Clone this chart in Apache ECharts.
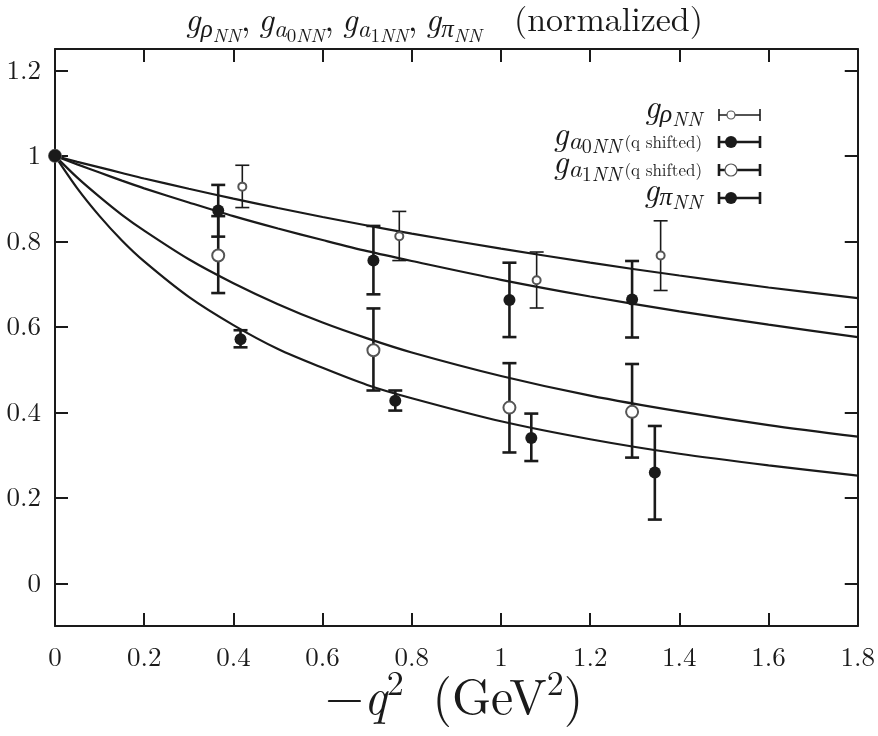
<!DOCTYPE html>
<html><head><meta charset="utf-8">
<script src="https://cdn.jsdelivr.net/npm/echarts@6/dist/echarts.min.js"></script>
<style>html,body{margin:0;padding:0;background:#fff}#c{width:878px;height:736px}</style>
</head><body><div id="c"></div>
<script>
// ---- data ----
const xTickValues = [0, 0.2, 0.4, 0.6, 0.8, 1, 1.2, 1.4, 1.6, 1.8];
const yTickValues = [0, 0.2, 0.4, 0.6, 0.8, 1, 1.2];

const rhoX  = [0, 0.420, 0.772, 1.080, 1.358];
const rhoY  = [1, 0.928, 0.812, 0.709, 0.767];
const rhoLo = [1, 0.879, 0.755, 0.644, 0.685];
const rhoHi = [1, 0.978, 0.870, 0.775, 0.848];

const a0X  = [0, 0.366, 0.714, 1.019, 1.294];
const a0Y  = [1, 0.872, 0.755, 0.663, 0.664];
const a0Lo = [1, 0.811, 0.676, 0.576, 0.575];
const a0Hi = [1, 0.932, 0.836, 0.750, 0.754];

const a1X  = [0, 0.366, 0.714, 1.019, 1.294];
const a1Y  = [1, 0.767, 0.545, 0.411, 0.401];
const a1Lo = [1, 0.679, 0.451, 0.306, 0.294];
const a1Hi = [1, 0.859, 0.643, 0.515, 0.513];

const piX  = [0, 0.416, 0.763, 1.068, 1.345];
const piY  = [1, 0.571, 0.427, 0.340, 0.259];
const piLo = [1, 0.552, 0.404, 0.286, 0.149];
const piHi = [1, 0.592, 0.451, 0.397, 0.368];

// fit curves
const fitX    = [0, 0.05, 0.1, 0.15, 0.2, 0.3, 0.4, 0.5, 0.6, 0.7, 0.8, 1.0, 1.2, 1.4, 1.6, 1.8];
const fitRho  = [1, 0.986, 0.973, 0.960, 0.947, 0.923, 0.900, 0.878, 0.857, 0.837, 0.818, 0.783, 0.750, 0.720, 0.692, 0.667];
const fitA0   = [1, 0.980, 0.961, 0.942, 0.924, 0.891, 0.859, 0.830, 0.803, 0.777, 0.754, 0.710, 0.671, 0.636, 0.605, 0.576];
const fitA1   = [1, 0.949, 0.904, 0.862, 0.825, 0.758, 0.702, 0.653, 0.610, 0.573, 0.540, 0.485, 0.439, 0.402, 0.370, 0.343];
const fitPi   = [1, 0.924, 0.859, 0.802, 0.753, 0.670, 0.604, 0.548, 0.504, 0.464, 0.433, 0.379, 0.337, 0.303, 0.276, 0.252];

// ---- helpers ----
const INK = '#1a1a1a';
const FONT = '"Latin Modern Roman","Liberation Serif","DejaVu Serif",serif';
const zip2 = (a, b) => a.map((v, i) => [v, b[i]]);
const zip3 = (a, b, c) => a.map((v, i) => [v, b[i], c[i]]);

function errSeries(xs, lo, hi, lw) {
  return {
    type: 'custom', z: 3,
    data: zip3(xs, lo, hi),
    renderItem: function (params, api) {
      const x = api.value(0), l = api.value(1), h = api.value(2);
      if (l === h) return null;
      const p1 = api.coord([x, l]), p2 = api.coord([x, h]);
      const c = 7;
      const st = { stroke: INK, lineWidth: lw };
      return { type: 'group', children: [
        { type: 'line', shape: { x1: p1[0], y1: p1[1], x2: p2[0], y2: p2[1] }, style: st },
        { type: 'line', shape: { x1: p1[0] - c, y1: p1[1], x2: p1[0] + c, y2: p1[1] }, style: st },
        { type: 'line', shape: { x1: p2[0] - c, y1: p2[1], x2: p2[0] + c, y2: p2[1] }, style: st }
      ]};
    }
  };
}
function fitSeries(ys) {
  return { type: 'line', data: zip2(fitX, ys), smooth: 0.3, showSymbol: false, symbol: 'none', z: 2,
    lineStyle: { color: INK, width: 2.2 }, silent: true };
}
function ptSeries(xs, ys, filled, size) {
  return { type: 'scatter', data: zip2(xs, ys), symbol: filled ? 'circle' : 'emptyCircle', symbolSize: size, z: filled ? 6 : 5,
    itemStyle: filled ? { color: INK, opacity: 1 } : { color: '#555', borderColor: '#555', borderWidth: 1.2, opacity: 1 } };
}

// math-like text from measured fragments: [text, size, italic, dy(baseline shift), dxBefore]
const mctx = document.createElement('canvas').getContext('2d');
function mathText(frags, x, baseline, align) {
  const w = frags.map(f => { mctx.font = (f[2] ? 'italic ' : '') + f[1] + 'px ' + FONT; return mctx.measureText(f[0]).width + (f[4] || 0); });
  const total = w.reduce((a, b) => a + b, 0);
  let cx = align === 'right' ? x - total : align === 'center' ? x - total / 2 : x;
  const out = [];
  frags.forEach((f, i) => {
    out.push({ type: 'text', x: cx + (f[4] || 0), y: baseline + f[3] + 0.16 * f[1], silent: true,
      style: { text: f[0], fontFamily: FONT, fontSize: f[1], fontStyle: f[2] ? 'italic' : 'normal', fill: INK,
        align: 'left', verticalAlign: 'bottom' } });
    cx += w[i];
  });
  return out;
}

const T = 34, TS = 25, TSS = 19;
const titleFrags = [
  ['g', T, 1, 0], ['ρ', TS, 1, 6], ['NN', TSS, 1, 11], [',', T, 0, 0],
  ['g', T, 1, 0, 8], ['a', TS, 1, 6], ['0', TSS, 0, 11], ['NN', TSS, 1, 11], [',', T, 0, 0],
  ['g', T, 1, 0, 8], ['a', TS, 1, 6], ['1', TSS, 0, 11], ['NN', TSS, 1, 11], [',', T, 0, 0],
  ['g', T, 1, 0, 8], ['π', TS, 1, 6], ['NN', TSS, 1, 11],
  ['(normalized)', 34, 0, 0, 32]
];
const L = 34, LS = 26, LSS = 20, LQ = 17;
const legendFrags = [
  [['g', L, 1, 0], ['ρ', LS, 1, 4], ['NN', LSS, 1, 8]],
  [['g', L, 1, 0], ['a', LS, 1, 4], ['0', LSS, 0, 8], ['NN', LSS, 1, 8], ['(q shifted)', LQ, 0, 3, 3]],
  [['g', L, 1, 0], ['a', LS, 1, 4], ['1', LSS, 0, 8], ['NN', LSS, 1, 8], ['(q shifted)', LQ, 0, 3, 3]],
  [['g', L, 1, 0], ['π', LS, 1, 4], ['NN', LSS, 1, 8]]
];
const legendKinds = [
  { filled: false, r: 4, lw: 1.6 },
  { filled: true, r: 6, lw: 2.6 },
  { filled: false, r: 6, lw: 2.6 },
  { filled: true, r: 6, lw: 2.6 }
];
const legendRowsY = [115, 142, 170, 198];
const A = 50, AS = 34;
const axisNameFrags = [['−', A, 0, 0], ['q', A, 1, 0], ['2', AS, 0, -20], [' (GeV', A, 0, 0, 12], ['2', AS, 0, -20], [')', A, 0, 0]];

let graphics = [];
graphics = graphics.concat(mathText(titleFrags, 444, 32, 'center'));
legendFrags.forEach((fr, i) => {
  const y = legendRowsY[i], k = legendKinds[i];
  graphics = graphics.concat(mathText(fr, 702, y + 4, 'right'));
  const st = { stroke: INK, lineWidth: k.lw };
  graphics.push({ type: 'line', shape: { x1: 719, y1: y, x2: 760, y2: y }, style: st });
  graphics.push({ type: 'line', shape: { x1: 719, y1: y - 6, x2: 719, y2: y + 6 }, style: st });
  graphics.push({ type: 'line', shape: { x1: 760, y1: y - 6, x2: 760, y2: y + 6 }, style: st });
  graphics.push({ type: 'circle', shape: { cx: 731, cy: y, r: k.r },
    style: k.filled ? { fill: INK } : { fill: '#fff', stroke: '#555', lineWidth: 1.2 } });
});
graphics = graphics.concat(mathText(axisNameFrags, 454, 716, 'center'));

const axisLine = { show: true, onZero: false, lineStyle: { color: INK, width: 2 } };
function tick(vals) { return { show: true, inside: true, length: 13, customValues: vals, lineStyle: { color: INK, width: 2 } }; }
const labelStyle = { fontFamily: FONT, fontSize: 27, color: INK };

const option = {
  animation: false,
  backgroundColor: '#fff',
  grid: { left: 55, right: 16, top: 49, bottom: 110, show: false },
  xAxis: [
    { type: 'value', min: 0, max: 1.8, interval: 0.2, position: 'bottom', axisLine: axisLine, axisTick: tick(xTickValues), splitLine: { show: false },
      axisLabel: Object.assign({ show: true, margin: 18, customValues: xTickValues, formatter: v => String(+v.toFixed(1)) }, labelStyle) },
    { type: 'value', min: 0, max: 1.8, interval: 0.2, position: 'top', axisLine: axisLine, axisTick: tick(xTickValues), splitLine: { show: false },
      axisLabel: { show: false } }
  ],
  yAxis: [
    { type: 'value', min: -0.1, max: 1.25, position: 'left', axisLine: axisLine, axisTick: tick(yTickValues), splitLine: { show: false },
      axisLabel: Object.assign({ show: true, margin: 14, customValues: yTickValues, formatter: v => String(+v.toFixed(1)) }, labelStyle) },
    { type: 'value', min: -0.1, max: 1.25, position: 'right', axisLine: axisLine, axisTick: tick(yTickValues), splitLine: { show: false },
      axisLabel: { show: false } }
  ],
  series: [
    fitSeries(fitRho), fitSeries(fitA0), fitSeries(fitA1), fitSeries(fitPi),
    errSeries(rhoX, rhoLo, rhoHi, 1.6),
    errSeries(a0X, a0Lo, a0Hi, 2.6),
    errSeries(a1X, a1Lo, a1Hi, 2.6),
    errSeries(piX, piLo, piHi, 2.6),
    ptSeries(rhoX, rhoY, false, 8),
    ptSeries(a1X, a1Y, false, 12),
    ptSeries(a0X, a0Y, true, 12),
    ptSeries(piX, piY, true, 12)
  ],
  graphic: graphics
};
const chart = echarts.init(document.getElementById('c'), null, { renderer: 'canvas' });
chart.setOption(option);
</script>
</body></html>
